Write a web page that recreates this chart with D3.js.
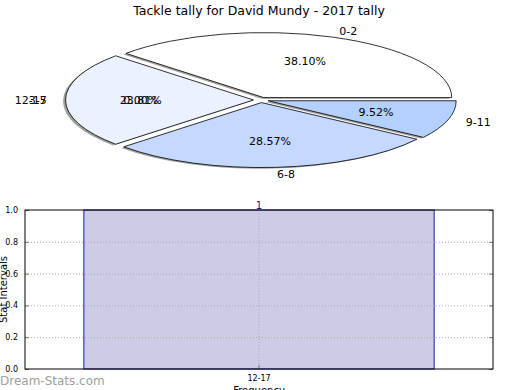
<!DOCTYPE html>
<html>
<head>
  <meta charset="utf-8">
  <title>tackle tally</title>
  <style>
    body { margin: 0; background: #fff; }
    text { font-family: "DejaVu Sans", sans-serif; }
  </style>
</head>
<body>
  <svg width="520" height="390" class="chart"></svg>

  <script src="https://d3js.org/d3.v7.min.js"></script>
  <script type="text/javascript">

  // pie data
  var pieCats = ["0-2", "3-5", "6-8", "9-11"];
  var pieVals = [8, 5, 6, 2];
  var pieColors = ["#ffffff", "#ebf1ff", "#c5d8ff", "#b3d0ff"];
  // zero slice whose labels got stacked on top of the 3-5 ones
  var zeroCats = ["12-17"];
  var zeroVals = [0];

  // bar data
  var barCats = ["12-17"];
  var barVals = [1];
  var yTicks = [0, 0.2, 0.4, 0.6, 0.8, 1.0];

  var svg = d3.select(".chart");

  svg.append("text")
    .attr("x", 259).attr("y", 15)
    .attr("text-anchor", "middle")
    .style("font-size", "12.5px")
    .text("Tackle tally for David Mundy - 2017 tally");

  // ---- pie (squashed ellipse, exploded, with shadow) ----
  var cx = 261, cy = 100, rx = 188, ry = 65, explode = 0.04;
  var total = d3.sum(pieVals);

  // d3 angles: 0 at 12 o'clock going clockwise, so start at 3 o'clock and go backwards
  var pie = d3.pie().sort(null).value(function(d) { return d; })
    .startAngle(Math.PI / 2).endAngle(Math.PI / 2 - 2 * Math.PI);
  var arcs = pie(pieVals);
  var arc = d3.arc().innerRadius(0).outerRadius(1);

  function mid(a) { return (a.startAngle + a.endAngle) / 2; }
  // position on the ellipse for a d3 angle and a radius factor
  function px(a, f) { return Math.sin(a) * rx * f; }
  function py(a, f) { return -Math.cos(a) * ry * f; }

  arcs.forEach(function(a) {
    var m = mid(a);
    a.ox = cx + px(m, explode);
    a.oy = cy + py(m, explode);
  });

  var shadow = svg.append("g");
  shadow.selectAll("path")
    .data(arcs)
    .enter().append("path")
    .attr("d", arc)
    .attr("transform", function(a) {
      return "translate(" + (a.ox - 2.5) + "," + (a.oy + 1.2) + ") scale(" + rx + "," + ry + ")";
    })
    .style("fill", "#444")
    .style("opacity", 0.5)
    .style("stroke", "none");

  var wedges = svg.append("g");
  wedges.selectAll("path")
    .data(arcs)
    .enter().append("path")
    .attr("d", arc)
    .attr("transform", function(a) {
      return "translate(" + a.ox + "," + a.oy + ") scale(" + rx + "," + ry + ")";
    })
    .attr("vector-effect", "non-scaling-stroke")
    .style("fill", function(a, i) { return pieColors[i]; })
    .style("stroke", "#000")
    .style("stroke-width", 0.8);

  var labels = svg.append("g").style("font-size", "11px");
  arcs.forEach(function(a, i) {
    var m = mid(a);
    var lx = a.ox + px(m, 1.1), ly = a.oy + py(m, 1.1);
    var anchor = lx > cx ? "start" : "end";
    var pct = (pieVals[i] / total * 100).toFixed(2) + "%";
    var cats = [pieCats[i]], pcts = [pct];
    if (i === 1) {
      zeroCats.forEach(function(c, j) {
        cats.push(c);
        pcts.push((zeroVals[j] / total * 100).toFixed(2) + "%");
      });
    }
    cats.forEach(function(c) {
      labels.append("text")
        .attr("x", lx).attr("y", ly + 4)
        .attr("text-anchor", anchor)
        .text(c);
    });
    pcts.forEach(function(p) {
      labels.append("text")
        .attr("x", a.ox + px(m, 0.6)).attr("y", a.oy + py(m, 0.6) + 4)
        .attr("text-anchor", "middle")
        .text(p);
    });
  });

  // ---- bar chart ----
  // (plotTop, not "top": that one is window.top)
  var plotLeft = 25, plotRight = 493, plotTop = 210, plotBottom = 369;

  var x = d3.scaleBand().domain(barCats).range([plotLeft, plotRight])
    .paddingInner(0).paddingOuter(0.168);
  var y = d3.scaleLinear().domain([0, 1]).range([plotBottom, plotTop]);

  var bars = svg.append("g");
  bars.selectAll("rect")
    .data(barVals)
    .enter().append("rect")
    .attr("x", function(d, i) { return x(barCats[i]); })
    .attr("y", function(d) { return y(d); })
    .attr("width", x.bandwidth())
    .attr("height", function(d) { return y(0) - y(d); })
    .style("fill", "#ccccE6")
    .style("stroke", "#1a1a99")
    .style("stroke-width", 1);

  // dotted grid
  var grid = svg.append("g")
    .style("stroke", "#aaa")
    .style("stroke-dasharray", "1,2");
  grid.selectAll("line.h")
    .data(yTicks.slice(1, -1))
    .enter().append("line")
    .attr("x1", plotLeft).attr("x2", plotRight)
    .attr("y1", function(d) { return y(d) + 0.5; })
    .attr("y2", function(d) { return y(d) + 0.5; });
  grid.selectAll("line.v")
    .data(barCats)
    .enter().append("line")
    .attr("x1", function(d) { return x(d) + x.bandwidth() / 2; })
    .attr("x2", function(d) { return x(d) + x.bandwidth() / 2; })
    .attr("y1", plotTop).attr("y2", plotBottom);

  // axes: ticks point inward on both sides
  var yAxis = d3.axisLeft(y).tickValues(yTicks).tickSizeInner(-4).tickSizeOuter(0)
    .tickPadding(7).tickFormat(d3.format(".1f"));
  var gy = svg.append("g").attr("transform", "translate(" + plotLeft + ",0)").call(yAxis);
  gy.select(".domain").remove();
  gy.selectAll("line").style("stroke", "#777");
  gy.selectAll("text").style("font-size", "8px").style("font-family", "DejaVu Sans");

  var yAxisR = d3.axisRight(y).tickValues(yTicks).tickSizeInner(-4).tickSizeOuter(0).tickFormat("");
  var gyr = svg.append("g").attr("transform", "translate(" + plotRight + ",0)").call(yAxisR);
  gyr.select(".domain").remove();
  gyr.selectAll("line").style("stroke", "#777");

  var xAxis = d3.axisBottom(x).tickSizeInner(-4).tickSizeOuter(0).tickPadding(6);
  var gx = svg.append("g").attr("transform", "translate(0," + plotBottom + ")").call(xAxis);
  gx.select(".domain").remove();
  gx.selectAll("line").style("stroke", "#777");
  gx.selectAll("text").style("font-size", "8px").style("font-family", "DejaVu Sans");

  svg.append("rect")
    .attr("x", plotLeft).attr("y", plotTop)
    .attr("width", plotRight - plotLeft).attr("height", plotBottom - plotTop)
    .style("fill", "none").style("stroke", "#000").style("stroke-width", 1);

  // value label on top of the bar
  bars.selectAll("text")
    .data(barVals)
    .enter().append("text")
    .attr("x", function(d, i) { return x(barCats[i]) + x.bandwidth() / 2; })
    .attr("y", function(d) { return y(d) - 1; })
    .attr("text-anchor", "middle")
    .style("font-size", "10px")
    .style("fill", "#1a1a80")
    .text(function(d) { return d; });

  svg.append("text")
    .attr("x", (plotLeft + plotRight) / 2).attr("y", 394)
    .attr("text-anchor", "middle")
    .style("font-size", "10px")
    .text("Frequency");

  svg.append("text")
    .attr("transform", "translate(7," + ((plotTop + plotBottom) / 2) + ") rotate(-90)")
    .attr("text-anchor", "middle")
    .style("font-size", "10px")
    .text("Stat Intervals");

  svg.append("text")
    .attr("x", 0).attr("y", 385)
    .style("font-size", "12px")
    .style("fill", "#a0a0a0")
    .text("Dream-Stats.com");

  </script>
</body>
</html>
